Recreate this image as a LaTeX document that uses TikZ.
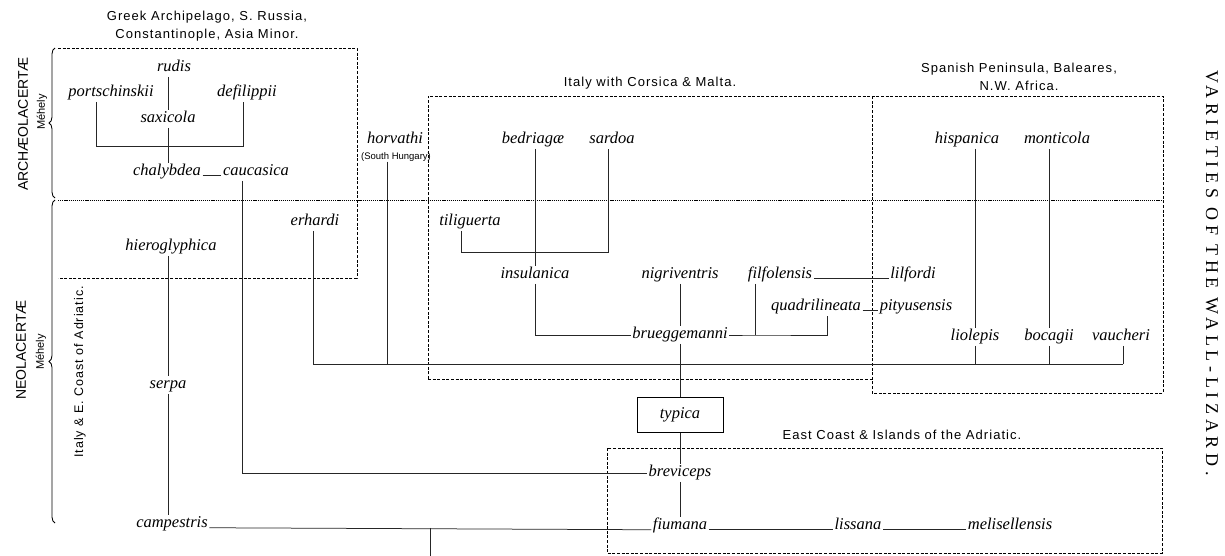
\documentclass[tikz,border=0pt]{standalone}
\usepackage{fontspec}
\newfontfamily\sanslab{Liberation Sans}[LetterSpace=8]
\newfontfamily\sansplain{Liberation Sans}
\newfontfamily\titlefont{Liberation Serif}[LetterSpace=26]
\newfontfamily\namefont{Liberation Serif}
\usetikzlibrary{decorations.pathreplacing}
\tikzset{
  sp/.style={font=\namefont\fontsize{16.5}{17}\selectfont\itshape, inner sep=1.5pt, text height=11pt, text depth=3.5pt},
  reg/.style={font=\sanslab\fontsize{13}{18}\selectfont, align=center, inner sep=0pt},
  side/.style={font=\sansplain\fontsize{14}{16}\selectfont, rotate=90, inner sep=0pt},
  small/.style={font=\sansplain\fontsize{9.5}{11}\selectfont, inner sep=0pt},
  meh/.style={font=\sansplain\fontsize{11}{12}\selectfont, rotate=90, inner sep=0pt},
  ln/.style={line width=0.75pt, black!85},
  dbox/.style={line width=0.75pt, dash pattern=on 3pt off 1.6pt},
  dotl/.style={line width=0.85pt, dash pattern=on 1.2pt off 0.9pt},
  brc/.style={line width=0.85pt, decorate, decoration={brace, amplitude=6pt}},
}
\begin{document}
\begin{tikzpicture}[x=1pt, y=-1pt]
\useasboundingbox (0,0) rectangle (1225,556);
\fill[white] (0,0) rectangle (1225,556);

% region titles
\node[reg] (tgreek) at (207,26) {Greek Archipelago, S. Russia,\\Constantinople, Asia Minor.};
\node[reg] (titaly) at (650,83) {Italy with Corsica \& Malta.};
\node[reg] (tspain) at (1019,77) {Spanish Peninsula, Baleares,\\N.W. Africa.};
\node[reg] (teast) at (902,435) {East Coast \& Islands of the Adriatic.};

% side labels
\node[side] (archae) at (23,124) {ARCHÆOLACERTÆ};
\node[meh] (meh1) at (42,112) {Méhely};
\node[side] (neol) at (21,350) {NEOLACERTÆ};
\node[meh] (meh2) at (41,352) {Méhely};
\node[font=\sanslab\fontsize{12.5}{14}\selectfont, rotate=90, inner sep=0pt] (italyec) at (80,372) {Italy \& E. Coast of Adriatic.};
\node[font=\titlefont\fontsize{18}{20}\selectfont, rotate=-90, inner sep=0pt] (title) at (1212,273) {VARIETIES OF THE WALL-LIZARD.};

% boxes and separators
\draw[dbox] (58,48) -- (357,48) -- (357,278) -- (58,278);
\draw[dbox] (428,379) -- (428,96) -- (1163,96) -- (1163,393) -- (872,393) -- (872,96);
\draw[dbox] (428,379) -- (872,379);
\draw[dbox] (607,448) rectangle (1162,553);
\draw[dotl] (58,200) -- (1163,200);
\draw[brc] (55,198) -- (55,48);
\draw[brc] (55,523) -- (55,200);

% species
\node[sp] (rudis) at (174,68) {rudis};
\node[sp] (portschinskii) at (111,93) {portschinskii};
\node[sp] (defilippii) at (247,93) {defilippii};
\node[sp] (saxicola) at (168,119) {saxicola};
\node[sp] (chalybdea) at (167,172) {chalybdea};
\node[sp] (caucasica) at (256,172) {caucasica};
\node[sp] (horvathi) at (395,140) {horvathi};
\node[small] (southh) at (396,157) {(South Hungary)};
\node[sp] (bedriagae) at (533,140) {bedriagæ};
\node[sp] (sardoa) at (612,140) {sardoa};
\node[sp] (hispanica) at (967,140) {hispanica};
\node[sp] (monticola) at (1057,140) {monticola};
\node[sp] (tiliguerta) at (470,222) {tiliguerta};
\node[sp] (erhardi) at (315,222) {erhardi};
\node[sp] (hieroglyphica) at (171,247) {hieroglyphica};
\node[sp] (insulanica) at (535,275) {insulanica};
\node[sp] (nigriventris) at (680,275) {nigriventris};
\node[sp] (filfolensis) at (780,275) {filfolensis};
\node[sp] (lilfordi) at (913,275) {lilfordi};
\node[sp] (quadrilineata) at (816,307) {quadrilineata};
\node[sp] (pityusensis) at (916,307) {pityusensis};
\node[sp] (brueggemanni) at (680,335) {brueggemanni};
\node[sp] (liolepis) at (975,337) {liolepis};
\node[sp] (bocagii) at (1049,337) {bocagii};
\node[sp] (vaucheri) at (1121,337) {vaucheri};
\node[sp] (serpa) at (168,385) {serpa};
\node[sp, draw, line width=0.85pt, minimum width=86pt, minimum height=35pt] (typica) at (680,415) {typica};
\node[sp] (breviceps) at (680,473) {breviceps};
\node[sp] (campestris) at (172,524) {campestris};
\node[sp] (fiumana) at (680,526) {fiumana};
\node[sp] (lissana) at (858,526) {lissana};
\node[sp] (melisellensis) at (1010,526) {melisellensis};

% junction coordinates
\coordinate (pb) at (96,146);
\coordinate (db) at (243,146);
\coordinate (cc) at (242,473);
\coordinate (hv) at (387,364);
\coordinate (er) at (313,364);
\coordinate (vc) at (1123,364);
\coordinate (tl) at (461,252);
\coordinate (sr) at (608,252);
\coordinate (ib) at (535,335);
\coordinate (fb) at (755,335);
\coordinate (qb) at (827,335);
\coordinate (bt) at (430,556);

% connectors
\begin{scope}[ln]
\draw (portschinskii.south -| pb) -- (pb) -- (db) -- (defilippii.south -| db);
\draw (rudis.south -| saxicola.north) -- (saxicola.north);
\draw (saxicola.south) -- (chalybdea.north -| saxicola.south);
\draw (chalybdea.base east) -- (caucasica.base west);
\draw (caucasica.south -| cc) -- (cc) -- (breviceps.west);
\draw (southh.south -| hv) -- (hv);
\draw (erhardi.south -| er) -- (er) -- (vc);
\draw (vaucheri.south -| vc) -- (vc);
\draw (tiliguerta.south -| tl) -- (tl) -- (sr) -- (sardoa.south -| sr);
\draw (bedriagae.south -| insulanica.north) -- (insulanica.north);
\draw (insulanica.south) -- (ib) -- (brueggemanni.west);
\draw (nigriventris.south) -- (brueggemanni.north);
\draw (brueggemanni.east) -- (fb) -- (qb) -- (quadrilineata.south -| qb);
\draw (filfolensis.south -| fb) -- (fb);
\draw (filfolensis.base east) -- (lilfordi.base west);
\draw (quadrilineata.base east) -- (pityusensis.base west);
\draw (brueggemanni.south) -- (typica.north);
\draw (typica.south) -- (breviceps.north);
\draw (breviceps.south) -- (fiumana.north);
\draw (hispanica.south -| liolepis.north) -- (liolepis.north);
\draw (liolepis.south) -- (liolepis.south |- vc);
\draw (monticola.south -| bocagii.north) -- (bocagii.north);
\draw (bocagii.south) -- (bocagii.south |- vc);
\draw (hieroglyphica.south -| serpa.north) -- (serpa.north);
\draw (serpa.south) -- (serpa.south |- campestris.north);
\draw (campestris.base east) -- (fiumana.base west);
\draw (fiumana.base east) -- (lissana.base west);
\draw (lissana.base east) -- (melisellensis.base west);
\draw (bt |- campestris.base) -- (bt);
\end{scope}
\end{tikzpicture}
\end{document}
